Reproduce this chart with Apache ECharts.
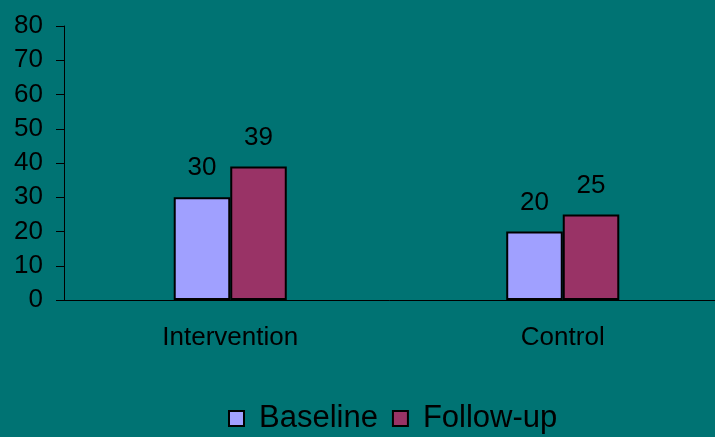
<!DOCTYPE html>
<html>
<head>
<meta charset="utf-8">
<script src="https://cdn.jsdelivr.net/npm/echarts@6/dist/echarts.min.js"></script>
<style>
  html, body { margin: 0; padding: 0; background: #007373; }
  #chart { width: 715px; height: 437px; }
</style>
</head>
<body>
<div id="chart"></div>
<script>
const categories = ['Intervention', 'Control']
const baseline = [30, 20]
const followUp = [39, 25]
const yTicks = { min: 0, max: 80, interval: 10 }

const chart = echarts.init(document.getElementById('chart'))
const font = '"Liberation Sans", Arial, sans-serif'

const barLabel = {
  show: true,
  position: 'top',
  distance: 16,
  color: '#000',
  fontSize: 26,
  fontFamily: font
}

chart.setOption({
  backgroundColor: '#007373',
  animation: false,
  // axis runs past the right edge like the original slide
  grid: { left: 64, width: 665, top: 26, bottom: 137, outerBoundsMode: 'none' },
  legend: {
    left: 223,
    top: 398,
    itemWidth: 15,
    itemHeight: 15,
    itemGap: 14,
    icon: 'rect',
    textStyle: { color: '#000', fontSize: 31, fontFamily: font, padding: [0, 0, 0, 10] },
    data: ['Baseline', 'Follow-up']
  },
  xAxis: {
    type: 'category',
    data: categories,
    axisLine: { lineStyle: { color: '#000', width: 1 } },
    axisTick: { length: 9, lineStyle: { color: '#000' } },
    axisLabel: { color: '#000', fontSize: 26, fontFamily: font, margin: 25 }
  },
  yAxis: {
    type: 'value',
    min: yTicks.min,
    max: yTicks.max,
    interval: yTicks.interval,
    splitLine: { show: false },
    axisLine: { show: true, lineStyle: { color: '#000', width: 1 } },
    axisTick: { show: true, length: 8, lineStyle: { color: '#000' } },
    axisLabel: { color: '#000', fontSize: 26, fontFamily: font, margin: 21 }
  },
  series: [
    {
      name: 'Baseline',
      type: 'bar',
      data: baseline,
      barGap: '0%',
      barCategoryGap: '66%',
      itemStyle: { color: '#a0a0ff', borderColor: '#000', borderWidth: 2 },
      label: barLabel
    },
    {
      name: 'Follow-up',
      type: 'bar',
      data: followUp,
      itemStyle: { color: '#993366', borderColor: '#000', borderWidth: 2 },
      label: barLabel
    }
  ]
})
</script>
</body>
</html>
